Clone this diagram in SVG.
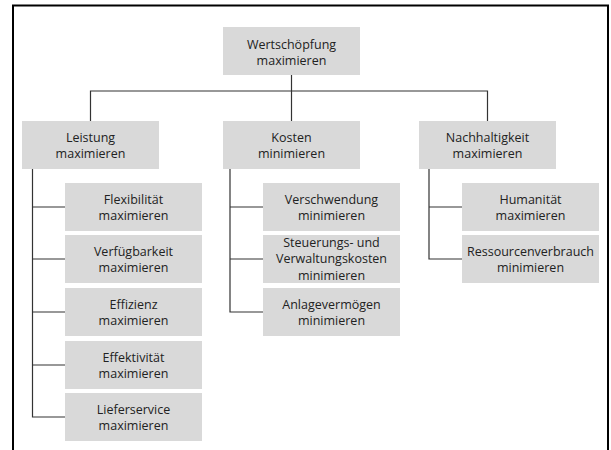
<svg xmlns="http://www.w3.org/2000/svg" width="611" height="450" viewBox="0 0 611 450">
  <style>
    .box rect { fill: #d9d9d9; }
    .box text { font-family: "Open Sans", "Noto Sans", "Liberation Sans", sans-serif; font-size: 12.5px; fill: #222; text-anchor: middle; }
    .frame { fill: none; stroke: #000; stroke-width: 2; }
    .conn path { fill: none; stroke: #333; stroke-width: 1.2; }
  </style>
  <rect width="611" height="450" fill="#fff"/>

  <!-- outer frame, open at the bottom -->
  <path class="frame" d="M13,450 V5.5 H608 V450"/>

  <!-- connectors -->
  <g id="connectors" class="conn">
    <path d="M291.5,75 V121"/>
    <path d="M90.5,121 V91 H487.5 V121"/>
    <!-- Leistung branch -->
    <path d="M32.5,169 V417 H65"/>
    <path d="M32.5,207 H65 M32.5,259 H65 M32.5,312 H65 M32.5,365 H65"/>
    <!-- Kosten branch -->
    <path d="M230,169 V312 H263"/>
    <path d="M230,207 H263 M230,259 H263"/>
    <!-- Nachhaltigkeit branch -->
    <path d="M429,169 V259 H462"/>
    <path d="M429,207 H462"/>
  </g>

  <g id="wertschoepfung" class="box">
    <rect x="223" y="27" width="137" height="48"/>
    <text x="291.5" y="48.5">Wertschöpfung</text>
    <text x="291.5" y="65">maximieren</text>
  </g>

  <g id="leistung" class="box">
    <rect x="22" y="121" width="137" height="48"/>
    <text x="90.5" y="141.7">Leistung</text>
    <text x="90.5" y="158.4">maximieren</text>
  </g>
  <g id="kosten" class="box">
    <rect x="223" y="121" width="137" height="48"/>
    <text x="291.5" y="141.7">Kosten</text>
    <text x="291.5" y="158.4">minimieren</text>
  </g>
  <g id="nachhaltigkeit" class="box">
    <rect x="419" y="121" width="137" height="48"/>
    <text x="487.5" y="141.7">Nachhaltigkeit</text>
    <text x="487.5" y="158.4">maximieren</text>
  </g>

  <!-- Leistung children -->
  <g id="flexibilitaet" class="box">
    <rect x="65" y="183" width="137" height="48"/>
    <text x="133.5" y="203.7">Flexibilität</text>
    <text x="133.5" y="220.4">maximieren</text>
  </g>
  <g id="verfuegbarkeit" class="box">
    <rect x="65" y="235" width="137" height="48"/>
    <text x="133.5" y="255.7">Verfügbarkeit</text>
    <text x="133.5" y="272.4">maximieren</text>
  </g>
  <g id="effizienz" class="box">
    <rect x="65" y="288" width="137" height="48"/>
    <text x="133.5" y="308.7">Effizienz</text>
    <text x="133.5" y="325.4">maximieren</text>
  </g>
  <g id="effektivitaet" class="box">
    <rect x="65" y="341" width="137" height="48"/>
    <text x="133.5" y="361.7">Effektivität</text>
    <text x="133.5" y="378.4">maximieren</text>
  </g>
  <g id="lieferservice" class="box">
    <rect x="65" y="393" width="137" height="48"/>
    <text x="133.5" y="413.7">Lieferservice</text>
    <text x="133.5" y="430.4">maximieren</text>
  </g>

  <!-- Kosten children -->
  <g id="verschwendung" class="box">
    <rect x="263" y="183" width="137" height="48"/>
    <text x="331.5" y="203.7">Verschwendung</text>
    <text x="331.5" y="220.4">minimieren</text>
  </g>
  <g id="steuerungskosten" class="box">
    <rect x="263" y="235" width="137" height="48"/>
    <text x="331.5" y="246.5">Steuerungs- und</text>
    <text x="331.5" y="263.3">Verwaltungskosten</text>
    <text x="331.5" y="280.1">minimieren</text>
  </g>
  <g id="anlagevermoegen" class="box">
    <rect x="263" y="288" width="137" height="48"/>
    <text x="331.5" y="308.7">Anlagevermögen</text>
    <text x="331.5" y="325.4">minimieren</text>
  </g>

  <!-- Nachhaltigkeit children -->
  <g id="humanitaet" class="box">
    <rect x="462" y="183" width="137" height="48"/>
    <text x="530.5" y="203.7">Humanität</text>
    <text x="530.5" y="220.4">maximieren</text>
  </g>
  <g id="ressourcenverbrauch" class="box">
    <rect x="462" y="235" width="137" height="48"/>
    <text x="530.5" y="255.7">Ressourcenverbrauch</text>
    <text x="530.5" y="272.4">minimieren</text>
  </g>
</svg>
